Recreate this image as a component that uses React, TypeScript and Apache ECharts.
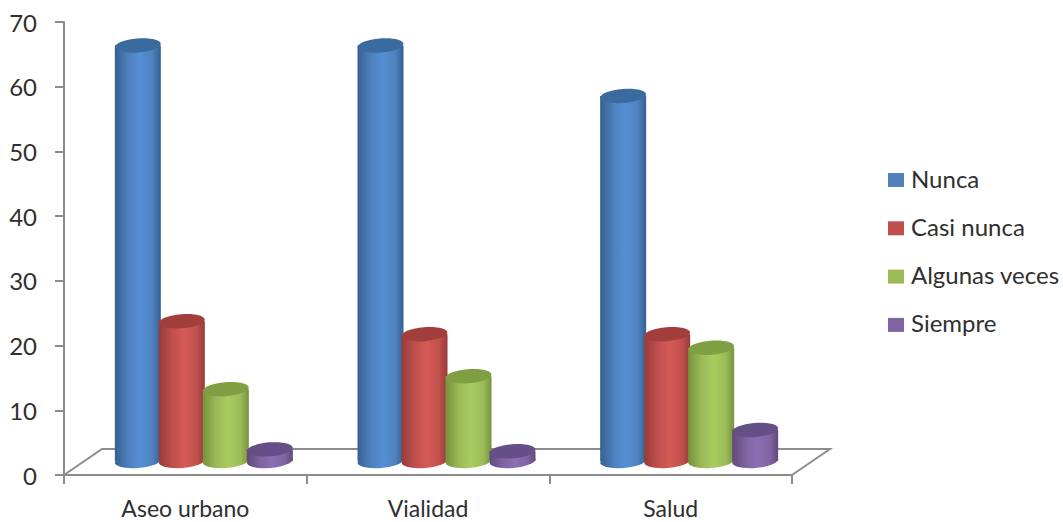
import React, { useEffect, useRef } from "react";
import * as echarts from "echarts";

const categories = ["Aseo urbano", "Vialidad", "Salud"];
const nunca = [64.2, 64.2, 56.4];
const casiNunca = [21.6, 19.6, 19.6];
const algunasVeces = [11.1, 13.1, 17.5];
const siempre = [1.8, 1.5, 4.8];
const yTicks = { min: 0, max: 70, interval: 10 };

const FONT = "Lato, 'Open Sans', sans-serif";
const TEXT = "#2f2f2f";
const AXIS = "#8c8c8c";

// Depth of the floor, and how far into it the cylinders stand.
const DEPTH_X = 38;
const DEPTH_Y = 26;
const STAND_X = 18.5;
const STAND_Y = 14;
const STEP = 44;
const RADIUS_X = 23;
const RADIUS_Y = 7;
const TILT = 0.08;

const shades = [
  { base: "#4F81BD", edge: "#366092", light: "#5490D6", top: "#3A6A9E" },
  { base: "#C0504D", edge: "#963C39", light: "#D65A56", top: "#A23E3B" },
  { base: "#9BBB59", edge: "#76933C", light: "#A9CC60", top: "#7F9F42" },
  { base: "#8064A2", edge: "#5F4A7C", light: "#8C6EB4", top: "#664E86" },
];

const seriesDefs = [
  { name: "Nunca", values: nunca },
  { name: "Casi nunca", values: casiNunca },
  { name: "Algunas veces", values: algunasVeces },
  { name: "Siempre", values: siempre },
];

function cylinderSeries(name: string, values: number[], index: number) {
  const shade = shades[index];
  return {
    type: "custom",
    name,
    z: 3,
    itemStyle: { color: shade.base },
    encode: { x: 0, y: 1 },
    data: values.map((v, i) => [categories[i], v]),
    renderItem: (_params: any, api: any) => {
      const [cx, topY] = api.coord([api.value(0), api.value(1)]);
      const [, baseY] = api.coord([api.value(0), 0]);
      const x = cx + STAND_X + (index - 1.5) * STEP;
      const yTop = topY - STAND_Y;
      const yBase = baseY - STAND_Y;
      const side = new echarts.graphic.LinearGradient(0, 0, 1, 0, [
        { offset: 0, color: shade.edge },
        { offset: 0.3, color: shade.base },
        { offset: 0.55, color: shade.light },
        { offset: 0.82, color: shade.base },
        { offset: 1, color: shade.edge },
      ]);
      return {
        type: "group",
        children: [
          {
            type: "ellipse",
            x,
            y: yBase,
            rotation: TILT,
            shape: { cx: 0, cy: 0, rx: RADIUS_X, ry: RADIUS_Y },
            style: { fill: side },
          },
          {
            type: "rect",
            shape: { x: x - RADIUS_X, y: yTop, width: RADIUS_X * 2, height: yBase - yTop },
            style: { fill: side },
          },
          {
            type: "ellipse",
            x,
            y: yTop,
            rotation: TILT,
            shape: { cx: 0, cy: 0, rx: RADIUS_X, ry: RADIUS_Y },
            style: { fill: shade.top },
          },
        ],
      };
    },
  };
}

// Back and side edges of the floor, drawn from the plot rectangle.
const floorSeries = {
  type: "custom",
  name: "floor",
  z: 1,
  silent: true,
  data: [[categories[0], 0]],
  encode: { x: 0, y: 1 },
  renderItem: (params: any) => {
    const { x, y, width, height } = params.coordSys;
    const left = x;
    const right = x + width;
    const bottom = y + height;
    return {
      type: "polyline",
      shape: {
        points: [
          [left, bottom],
          [left + DEPTH_X, bottom - DEPTH_Y],
          [right + DEPTH_X, bottom - DEPTH_Y],
          [right, bottom],
        ],
      },
      style: { fill: "none", stroke: AXIS, lineWidth: 2 },
    };
  },
};

export default function App() {
  const ref = useRef<HTMLDivElement>(null);
  useEffect(() => {
    const chart = echarts.init(ref.current!, null, { renderer: "svg" });
    chart.setOption({
      animation: false,
      backgroundColor: "#ffffff",
      grid: { left: 64, right: 271, top: 22, bottom: 47, containLabel: false },
      legend: {
        orient: "vertical",
        left: 888,
        top: 166,
        padding: 0,
        icon: "rect",
        itemWidth: 16,
        itemHeight: 14,
        itemGap: 24.3,
        selectedMode: false,
        data: seriesDefs.map((s) => s.name),
        formatter: "{label|{name}}",
        textStyle: {
          rich: {
            label: { fontFamily: FONT, fontSize: 24, color: TEXT, padding: [0, 0, 4, 2] },
          },
        },
      },
      xAxis: {
        type: "category",
        data: categories,
        axisLine: { lineStyle: { color: AXIS, width: 2 } },
        axisTick: { show: true, length: 9, lineStyle: { color: AXIS, width: 2 } },
        axisLabel: { fontFamily: FONT, fontSize: 23, lineHeight: 20, color: TEXT, margin: 23 },
      },
      yAxis: {
        type: "value",
        min: yTicks.min,
        max: yTicks.max,
        interval: yTicks.interval,
        splitLine: { show: false },
        axisLine: { show: true, lineStyle: { color: AXIS, width: 2 } },
        axisTick: { show: true, length: 9, lineStyle: { color: AXIS, width: 2 } },
        axisLabel: { fontFamily: FONT, fontSize: 24, color: TEXT, margin: 27 },
      },
      series: [floorSeries, ...seriesDefs.map((s, i) => cylinderSeries(s.name, s.values, i))],
    });
    return () => chart.dispose();
  }, []);
  return (
    <div
      ref={ref}
      style={{ position: "absolute", left: 0, top: 0, width: 1063, height: 522 }}
    />
  );
}
